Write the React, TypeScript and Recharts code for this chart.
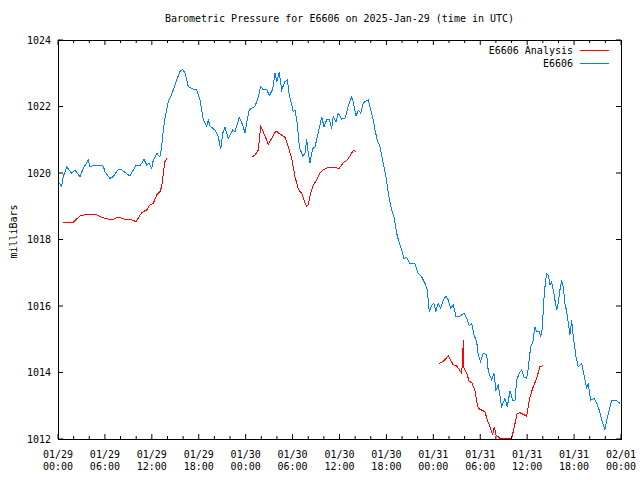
import { LineChart, Line, XAxis, YAxis, Legend, ReferenceArea } from "recharts";

const FONT = "'DejaVu Sans Mono', 'Liberation Mono', monospace";
const TITLE = "Barometric Pressure for E6606 on 2025-Jan-29 (time in UTC)";

// hours after 01/29 00:00 UTC
const stationHours = [
  0.17, 0.47, 0.68, 1.11, 1.75, 2.17, 2.81, 3.24, 3.87, 4.09, 4.73, 5.79, 6.01, 6.65, 7.07, 7.71, 8.15, 9.21, 9.63, 9.97,
  10.49, 11.0, 11.34, 11.68, 11.98, 12.19, 12.62, 13.04, 13.26, 13.47, 13.68, 14.1, 14.32, 14.74, 15.18, 15.6, 15.95, 16.24, 16.66, 17.3,
  17.74, 18.16, 18.58, 19.02, 19.22, 19.44, 20.08, 20.5, 20.81, 21.06, 21.36, 21.78, 22.34, 22.63, 23.18, 23.62, 23.91, 24.13, 24.46, 24.77,
  25.19, 25.61, 25.92, 26.25, 26.69, 27.02, 27.46, 27.75, 27.97, 28.3, 28.61, 29.03, 29.32, 29.58, 30.09, 30.31, 30.6, 30.86, 31.29, 31.59,
  31.8, 32.01, 32.23, 32.57, 32.86, 33.16, 33.5, 33.72, 34.02, 34.36, 34.69, 35.0, 35.2, 35.55, 35.84, 36.28, 36.7, 37.12, 37.56, 37.76,
  38.11, 38.4, 38.71, 39.04, 39.39, 39.68, 39.99, 40.32, 40.54, 40.83, 41.18, 41.52, 41.94, 42.24, 42.67, 42.97, 43.31, 43.64, 43.95, 44.25,
  44.59, 45.01, 45.65, 46.07, 46.51, 46.93, 47.23, 47.48, 47.79, 48.08, 48.3, 48.63, 48.94, 49.27, 49.62, 49.91, 50.22, 50.55, 50.9, 51.41,
  51.92, 52.26, 52.6, 52.9, 53.2, 53.54, 53.75, 54.05, 54.39, 54.82, 55.03, 55.46, 55.75, 56.01, 56.3, 56.74, 57.16, 57.46, 57.8, 58.15,
  58.44, 58.66, 58.99, 59.3, 59.59, 59.94, 60.14, 60.45, 60.7, 61.0, 61.21, 61.55, 61.73, 61.98, 62.06, 62.28, 62.49, 62.7, 62.92, 63.13,
  63.34, 63.55, 63.77, 63.98, 64.19, 64.41, 64.62, 64.83, 65.05, 65.26, 65.47, 65.69, 65.9, 66.24, 66.53, 66.97, 67.26, 67.61, 67.81, 68.12,
  68.54, 68.89, 69.22, 69.53, 69.95, 70.24, 70.59, 70.8, 71.44, 71.87,
];
const stationPressure = [
  1019.69, 1019.6, 1019.89, 1020.19, 1019.99, 1020.09, 1019.89, 1020.14, 1020.39, 1020.19, 1020.24, 1020.21, 1020.04, 1019.84, 1019.89, 1020.11, 1020.09, 1019.91, 1020.09, 1020.24,
  1020.21, 1020.41, 1020.24, 1020.29, 1020.14, 1020.39, 1020.59, 1020.49, 1020.79, 1021.29, 1021.64, 1022.14, 1022.24, 1022.5, 1022.8, 1023.05, 1023.12, 1023.0, 1022.6, 1022.52,
  1022.5, 1022.2, 1021.6, 1021.41, 1021.6, 1021.41, 1021.29, 1021.09, 1020.71, 1021.19, 1021.37, 1021.04, 1021.29, 1021.24, 1021.67, 1021.44, 1021.21, 1021.5, 1021.89, 1021.95,
  1022.0, 1022.28, 1022.6, 1022.5, 1022.52, 1022.32, 1022.52, 1023.0, 1022.75, 1023.02, 1022.5, 1022.75, 1022.8, 1022.35, 1021.84, 1021.89, 1021.5, 1020.79, 1020.51, 1020.59,
  1021.01, 1020.59, 1020.31, 1020.74, 1020.77, 1021.09, 1021.44, 1021.69, 1021.39, 1021.6, 1021.62, 1021.34, 1021.71, 1021.54, 1021.8, 1021.62, 1021.64, 1022.0, 1022.3, 1022.14,
  1021.71, 1021.89, 1021.8, 1022.11, 1022.17, 1022.2, 1021.89, 1021.6, 1021.29, 1020.99, 1020.79, 1020.39, 1019.89, 1019.39, 1018.89, 1018.69, 1018.19, 1017.89, 1017.68, 1017.43,
  1017.47, 1017.28, 1017.28, 1016.98, 1016.88, 1016.68, 1016.48, 1015.83, 1016.03, 1016.08, 1015.83, 1016.08, 1015.93, 1016.18, 1016.3, 1016.18, 1015.93, 1016.03, 1015.68, 1015.7,
  1015.78, 1015.63, 1015.4, 1015.48, 1015.13, 1014.93, 1014.53, 1014.33, 1014.58, 1014.53, 1014.03, 1013.78, 1013.98, 1013.47, 1013.62, 1012.97, 1013.22, 1012.97, 1013.45, 1013.17,
  1013.17, 1013.78, 1013.98, 1014.08, 1013.87, 1013.82, 1014.13, 1014.78, 1014.88, 1015.38, 1015.23, 1015.23, 1015.08, 1015.38, 1015.98, 1016.58, 1016.98, 1016.93, 1016.63, 1016.73,
  1016.48, 1016.18, 1015.88, 1016.08, 1016.48, 1016.78, 1016.58, 1016.08, 1015.83, 1015.48, 1015.13, 1015.58, 1015.08, 1014.48, 1014.18, 1014.28, 1013.93, 1013.52, 1013.68, 1013.17,
  1013.22, 1013.07, 1012.87, 1012.57, 1012.29, 1012.62, 1012.97, 1013.15, 1013.15, 1013.07,
];

// analysis has gaps (null)
const analysisHours = [
  0.6, 1.96, 2.81, 3.45, 4.95, 5.59, 6.01, 6.87, 7.71, 8.57, 9.21, 9.97, 10.27, 10.7, 11.34, 11.76, 12.19, 12.62, 13.04, 13.26,
  13.47, 13.68, 13.9, 19,
  24.77, 25.19, 25.61, 25.92, 26.25, 26.89, 27.33, 27.88, 28.39, 29.03, 29.45, 29.89, 30.31, 30.73, 31.16, 31.59, 31.8, 32.01, 32.31, 32.65,
  33.08, 33.5, 33.85, 34.57, 35.2, 35.97, 36.48, 36.99, 37.76, 38.07, 45,
  48.76, 49.27, 49.91, 50.55, 50.98, 51.62, 51.75, 51.83, 51.92, 52.26, 52.6, 52.9, 53.32, 53.54, 53.75, 54.18, 54.6, 54.9, 55.24, 55.59,
  55.79, 56.01, 56.52, 56.94, 58.02, 58.31, 58.73, 59.08, 59.5, 59.94, 60.36, 60.78, 61.21, 61.64, 61.98,
];
const analysisPressure = [
  1018.52, 1018.52, 1018.71, 1018.74, 1018.74, 1018.66, 1018.64, 1018.59, 1018.67, 1018.61, 1018.61, 1018.54, 1018.64, 1018.81, 1018.89, 1019.04, 1019.09, 1019.34, 1019.44, 1019.59,
  1019.99, 1020.34, 1020.44, null,
  1020.47, 1020.54, 1020.69, 1021.39, 1021.24, 1020.87, 1021.04, 1021.27, 1021.17, 1021.07, 1020.79, 1020.44, 1019.89, 1019.51, 1019.39, 1019.09, 1018.99, 1019.04, 1019.39, 1019.64,
  1019.79, 1019.99, 1020.09, 1020.17, 1020.17, 1020.14, 1020.31, 1020.39, 1020.67, 1020.66, null,
  1014.28, 1014.33, 1014.5, 1014.23, 1014.2, 1013.98, 1014.43, 1014.98, 1014.13, 1013.98, 1013.73, 1013.7, 1013.47, 1013.12, 1012.92, 1012.87, 1012.82, 1012.57, 1012.37, 1012.12,
  1012.37, 1012.12, 1012.02, 1012.0, 1012.02, 1012.32, 1012.77, 1012.79, 1012.74, 1012.69, 1013.27, 1013.57, 1013.82, 1014.18, 1014.2,
];

const seriesNames = ["E6606 Analysis", "E6606"];
const seriesColors = ["#ff0000", "#0080ff"];

const majorTicks = [0, 6, 12, 18, 24, 30, 36, 42, 48, 54, 60, 66, 72];
const minorTicks = [
  0, 2, 4, 6, 8, 10, 12, 14, 16, 18, 20, 22, 24, 26, 28, 30, 32, 34, 36,
  38, 40, 42, 44, 46, 48, 50, 52, 54, 56, 58, 60, 62, 64, 66, 68, 70, 72,
];
const tickDates = ["01/29", "01/29", "01/29", "01/29", "01/30", "01/30", "01/30", "01/30", "01/31", "01/31", "01/31", "01/31", "02/01"];
const tickTimes = ["00:00", "06:00", "12:00", "18:00", "00:00", "06:00", "12:00", "18:00", "00:00", "06:00", "12:00", "18:00", "00:00"];
const yTicks = [1012, 1014, 1016, 1018, 1020, 1022, 1024];
const xDomain = [0, 72];
const yDomain = [1012, 1024];

const stationData = stationHours.map((h, i) => ({ h, p: stationPressure[i] }));
const analysisData = analysisHours.map((h, i) => ({ h, p: analysisPressure[i] }));

// layout
const W = 640, H = 480;
const MARGIN = { top: 40, right: 19, bottom: 5, left: 0 };
const X_AXIS_H = 36, Y_AXIS_W = 58;
const PLOT_W = W - MARGIN.left - MARGIN.right - Y_AXIS_W;
const PLOT_H = H - MARGIN.top - MARGIN.bottom - X_AXIS_H;

// gnuplot style: inward ticks on all four sides, minor ticks every 2h
function TimeTick({ x, y, payload }: any) {
  const i = majorTicks.indexOf(payload.value);
  const len = i >= 0 ? 5 : 3;
  return (
    <g transform={`translate(${x},${y})`}>
      <line x1={0} x2={0} y1={0} y2={-len} stroke="#000" />
      <line x1={0} x2={0} y1={-PLOT_H} y2={-PLOT_H + len} stroke="#000" />
      {i >= 0 && (
        <text textAnchor="middle" fontFamily={FONT} fontSize={10} fill="#000">
          <tspan x={0} y={18.5}>{tickDates[i]}</tspan>
          <tspan x={0} y={30.5}>{tickTimes[i]}</tspan>
        </text>
      )}
    </g>
  );
}

function PressureTick({ x, y, payload }: any) {
  return (
    <g transform={`translate(${x},${y})`}>
      <line x1={0} x2={5} y1={0} y2={0} stroke="#000" />
      <line x1={PLOT_W - 5} x2={PLOT_W} y1={0} y2={0} stroke="#000" />
      <text x={-7} y={0} dy="0.36em" textAnchor="end" fontFamily={FONT} fontSize={10} fill="#000">
        {payload.value}
      </text>
    </g>
  );
}

function LegendBox() {
  return (
    <div style={{ fontFamily: FONT, fontSize: 10, lineHeight: "13px", color: "#000" }}>
      {seriesNames.map((n, i) => (
        <div key={n} style={{ display: "flex", alignItems: "center", justifyContent: "flex-end", height: 13 }}>
          <span style={{ whiteSpace: "pre" }}>{n}</span>
          <svg width={29} height={13} style={{ marginLeft: 7, display: "block" }}>
            <line x1={0} x2={29} y1={6.5} y2={6.5} stroke={seriesColors[i]} strokeWidth={1} />
          </svg>
        </div>
      ))}
    </div>
  );
}

function YTitle({ viewBox }: any) {
  const cy = viewBox.y + viewBox.height / 2 - 8;
  return (
    <text x={13} y={cy} transform={`rotate(-90, 13, ${cy})`} textAnchor="middle" dominantBaseline="central"
      fontFamily={FONT} fontSize={10} fill="#000">
      milliBars
    </text>
  );
}

export default function App() {
  return (
    <div style={{ position: "absolute", left: 0, top: 0, width: W, height: H, background: "#fff" }}>
      <style>{".recharts-line-curve, .recharts-cartesian-axis line, .recharts-reference-area-rect { shape-rendering: crispEdges; }"}</style>
      <div style={{ position: "absolute", left: Y_AXIS_W, width: PLOT_W, top: 13, textAlign: "center", fontFamily: FONT, fontSize: 10, lineHeight: "12px", color: "#000" }}>
        {TITLE}
      </div>
      <LineChart width={W} height={H} margin={MARGIN}>
        <XAxis xAxisId="main" dataKey="h" type="number" domain={xDomain} allowDataOverflow ticks={minorTicks}
          height={X_AXIS_H} tickSize={0} tickMargin={0} tickLine={false} tick={<TimeTick />}
          axisLine={{ stroke: "#000" }} interval={0} />
        <YAxis yAxisId="main" type="number" domain={yDomain} allowDataOverflow ticks={yTicks} width={Y_AXIS_W}
          tickSize={0} tickMargin={0} tickLine={false} axisLine={{ stroke: "#000" }} interval={0}
          tick={<PressureTick />} label={<YTitle />} />
        <ReferenceArea xAxisId="main" yAxisId="main" x1={xDomain[0]} x2={xDomain[1]} y1={yDomain[0]} y2={yDomain[1]}
          fill="none" fillOpacity={0} stroke="#000" strokeOpacity={1} />
        <Legend layout="horizontal" verticalAlign="middle" align="center" content={<LegendBox />}
          wrapperStyle={{ top: 43.5, right: 31, left: "auto", width: "auto" }} />
        <Line xAxisId="main" yAxisId="main" data={stationData} dataKey="p" name={seriesNames[1]} type="linear"
          stroke={seriesColors[1]} strokeWidth={1} dot={false} activeDot={false} isAnimationActive={false} />
        <Line xAxisId="main" yAxisId="main" data={analysisData} dataKey="p" name={seriesNames[0]} type="linear"
          stroke={seriesColors[0]} strokeWidth={1} dot={false} activeDot={false} isAnimationActive={false} connectNulls={false} />
      </LineChart>
    </div>
  );
}
